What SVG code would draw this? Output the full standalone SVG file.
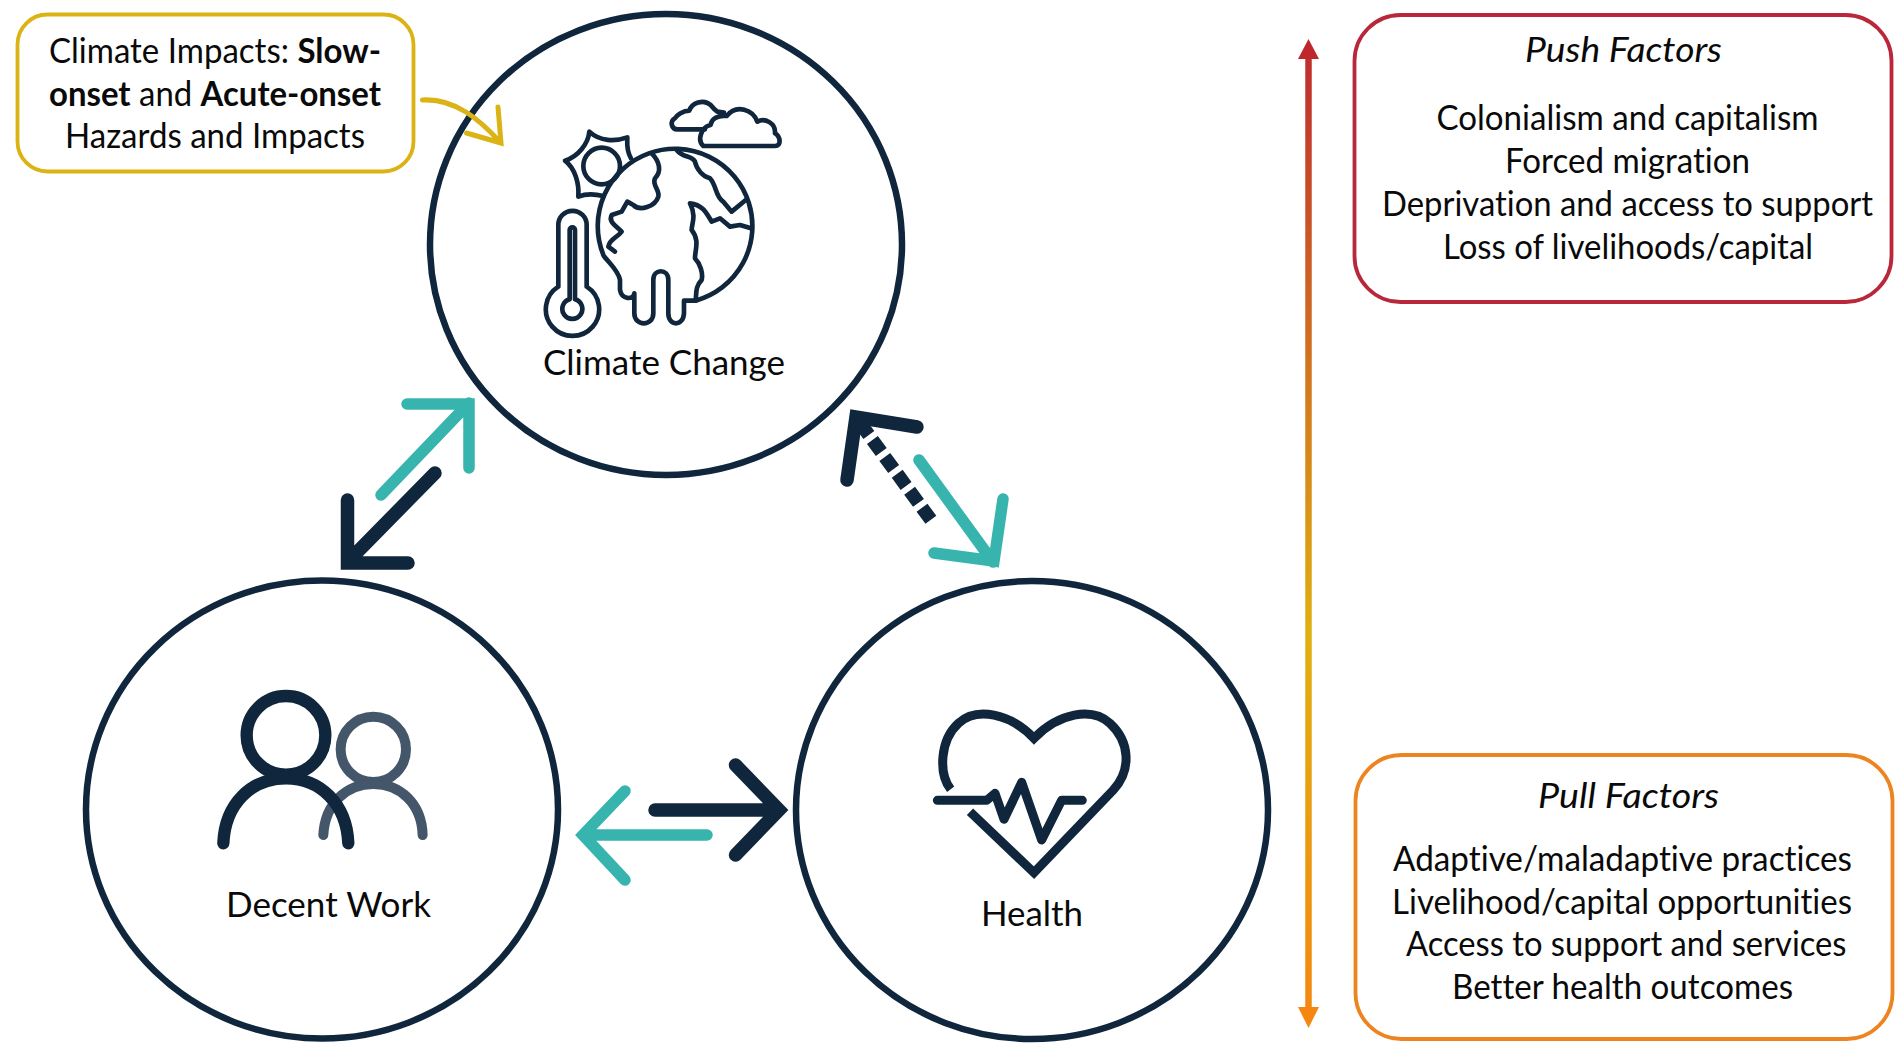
<svg xmlns="http://www.w3.org/2000/svg" width="1902" height="1053" viewBox="0 0 1902 1053">
<style>
text{font-family:Lato,"Liberation Sans",sans-serif;font-size:34px;fill:#0a0a0a;text-anchor:start;font-variant-ligatures:none}
.b{font-weight:700}
.ring{fill:none;stroke:#10263c;stroke-width:6.5}
.box{fill:#fff;stroke-width:3.8}
.ic{fill:none;stroke:#10263c;stroke-linecap:round;stroke-linejoin:round}
.ar{fill:none;stroke-linecap:round;stroke-linejoin:miter;stroke-width:12}
.teal{stroke:#38b4ae;stroke-width:11.5}
.dark{stroke:#10263c;stroke-width:13.5}
</style>
<defs>
<linearGradient id="g" gradientUnits="userSpaceOnUse" x1="0" y1="40" x2="0" y2="1028">
<stop offset="0" stop-color="#bf2a30"/><stop offset="0.6" stop-color="#e0b010"/><stop offset="1" stop-color="#f5860f"/>
</linearGradient>
</defs>
<rect width="1902" height="1053" fill="#fff"/>

<g id="node-climate">
<ellipse class="ring" cx="666" cy="244.5" rx="236" ry="230.5"/>
<g class="ic" transform="translate(520 90) scale(.3333)" stroke-width="14">
<path d="M555 118H472C455 118 448 95 465 85C470 75 490 62 508 62C515 40 550 25 572 45C580 55 585 60 592 65L612 68"/>
<path d="M550 168H765C785 168 782 140 765 130C768 100 735 82 712 95C700 60 650 40 620 78C595 75 575 85 572 105C545 110 530 150 550 168Z"/>
<path d="M333 205C318 180 322 160 322 142C285 155 240 155 208 125C205 160 175 200 135 212C165 235 178 280 175 320C200 310 225 312 250 318"/>
<circle cx="245" cy="228" r="55"/>
<path d="M115 590V405A42 42 0 0 1 200 405V590A80 80 0 1 1 115 590Z"/>
<path d="M149 628V420A8 8 0 0 1 165 420V628A30 30 0 1 1 149 628Z"/>
<path d="M527 632A232 232 0 1 0 250 495C262 515 295 540 300 570V600C305 630 340 630 343 610V670C343 710 400 710 400 670V570C400 535 445 535 445 570V670C445 710 490 710 492 670V632C500 632 515 632 527 632Z"/>
<path d="M395 190C420 215 425 245 405 265C395 285 420 300 415 320C405 350 360 365 340 345L322 335L305 365L275 375C265 395 285 405 305 425C290 445 270 445 265 470L285 485"/>
<path d="M470 180C490 205 515 195 525 215C530 240 550 260 570 265C590 285 585 320 610 335L635 365L680 328"/>
<path d="M693 415L660 405L630 410L600 385L575 395C560 370 550 345 510 340C530 380 515 400 515 420C540 450 525 480 525 505C540 520 550 550 545 570C525 590 530 610 527 632"/>
</g>
<text x="543" y="375" textLength="242" lengthAdjust="spacingAndGlyphs">Climate Change</text>
</g>

<g id="node-decent-work">
<ellipse class="ring" cx="322" cy="809.5" rx="236" ry="229"/>
<g class="ic" transform="translate(200 660) scale(.3333)">
<g stroke="#445669" stroke-width="30">
<circle cx="520" cy="268" r="98"/>
<path d="M370 525C375 430 440 372 520 372C600 372 665 430 668 525"/>
</g>
<g stroke-width="37">
<circle cx="258" cy="226" r="118"/>
<path d="M70 550C75 430 155 355 258 355C360 355 440 430 445 550"/>
</g>
</g>
<text x="226" y="917" textLength="205" lengthAdjust="spacingAndGlyphs">Decent Work</text>
</g>

<g id="node-health">
<ellipse class="ring" cx="1032" cy="810" rx="236" ry="229"/>
<g transform="translate(920 700) scale(.3333)" fill="none" stroke="#10263c" stroke-width="27">
<path d="M92 268C55 220 60 120 115 70C170 20 270 40 342 115C415 40 515 20 570 70C630 125 635 210 580 270L342 518L150 335" stroke-miterlimit="6"/>
<path d="M52 301H200L225 280L252 358L305 247L365 420L425 301H487" stroke-linecap="round" stroke-linejoin="round"/>
</g>
<text x="981" y="926" textLength="102" lengthAdjust="spacingAndGlyphs">Health</text>
</g>

<g id="node-climate-impacts">
<rect class="box" x="17.5" y="14.5" width="396" height="157" rx="30" stroke="#dbb315"/>
<text x="49" y="63" textLength="332" lengthAdjust="spacingAndGlyphs">Climate Impacts: <tspan class="b">Slow-</tspan></text>
<text x="49" y="106" textLength="332" lengthAdjust="spacingAndGlyphs"><tspan class="b">onset</tspan> and <tspan class="b">Acute-onset</tspan></text>
<text x="65" y="148" textLength="300" lengthAdjust="spacingAndGlyphs">Hazards and Impacts</text>
</g>

<g id="node-push">
<rect class="box" x="1354.5" y="15" width="537" height="287" rx="46" stroke="#b8283a"/>
<text x="1525" y="62" textLength="197" lengthAdjust="spacingAndGlyphs" font-style="italic">Push Factors</text>
<text x="1436.5" y="130" textLength="382" lengthAdjust="spacingAndGlyphs">Colonialism and capitalism</text>
<text x="1505" y="173" textLength="245" lengthAdjust="spacingAndGlyphs">Forced migration</text>
<text x="1382" y="216" textLength="491" lengthAdjust="spacingAndGlyphs">Deprivation and access to support</text>
<text x="1443" y="259" textLength="370" lengthAdjust="spacingAndGlyphs">Loss of livelihoods/capital</text>
</g>

<g id="node-pull">
<rect class="box" x="1355.5" y="755" width="537" height="284" rx="46" stroke="#ee8420"/>
<text x="1538" y="808" textLength="181" lengthAdjust="spacingAndGlyphs" font-style="italic">Pull Factors</text>
<text x="1393" y="871" textLength="459" lengthAdjust="spacingAndGlyphs">Adaptive/maladaptive practices</text>
<text x="1392" y="914" textLength="460" lengthAdjust="spacingAndGlyphs">Livelihood/capital opportunities</text>
<text x="1406" y="956" textLength="440.5" lengthAdjust="spacingAndGlyphs">Access to support and services</text>
<text x="1452" y="999" textLength="341" lengthAdjust="spacingAndGlyphs">Better health outcomes</text>
</g>

<g id="connectors">
<path class="ar teal" d="M381 495L469 403M407 404H469V468"/>
<path class="ar dark" d="M435 473L347.5 562M347.5 500V563H408"/>
<path class="ar dark" d="M917 427L856 417L847 480"/>
<path class="ar dark" d="M860 423L931 520" stroke-dasharray="15 6" style="stroke-linecap:butt"/>
<path class="ar teal" d="M919 460L993 562M1003 499L994 561L934 553"/>
<path class="ar dark" d="M655 810H778M735.5 765L779 810L735.5 855"/>
<path class="ar teal" d="M707 835H584M625 791L583 835L625 880"/>
<path d="M422.5 100C455 98 480 120 500 142M498 107L501 143L466.5 133" fill="none" stroke="#dbb315" stroke-width="5" stroke-linecap="round"/>
<path d="M1308.5 55V1012" fill="none" stroke="url(#g)" stroke-width="6.5"/>
<path d="M1308.5 39L1319 59H1298Z" fill="#c0272d"/>
<path d="M1308.5 1028L1319 1007H1298Z" fill="#f5860f"/>
</g>
</svg>
